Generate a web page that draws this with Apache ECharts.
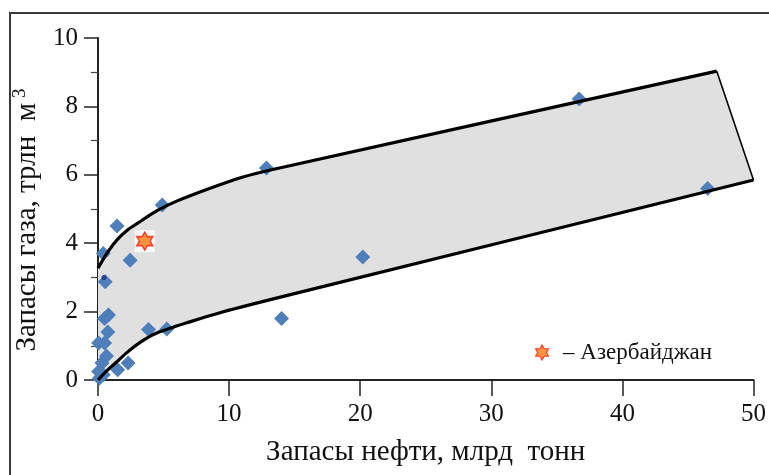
<!DOCTYPE html>
<html>
<head>
<meta charset="utf-8">
<script src="https://cdn.jsdelivr.net/npm/echarts@6/dist/echarts.min.js"></script>
<style>
  html, body { margin: 0; padding: 0; background: #fff; }
  #chart { width: 769px; height: 475px; }
</style>
</head>
<body>
<div id="chart"></div>
<script>
// Oil reserves (bn t) vs gas reserves (tn m3) by country
const oilReserves = [0.4, 1.45, 2.45, 0.55, 0.8, 0.5, 0.75, 0.05, 0.5, 0.65, 0.3, 0.05, 0.4, 0.1, 1.5, 2.3, 3.85, 5.25, 4.9, 12.85, 14.0, 20.2, 36.7, 46.5];
const gasReserves = [3.7, 4.5, 3.5, 2.87, 1.9, 1.8, 1.4, 1.08, 1.08, 0.7, 0.5, 0.25, 0.15, 0.05, 0.3, 0.5, 1.48, 1.49, 5.12, 6.2, 1.8, 3.6, 8.22, 5.6];

// Small dark marker inside the cluster
const darkDot = [[0.45, 3.0]];

// Azerbaijan
const azerbaijan = [[3.57, 4.06]];
const azerbaijanName = 'Азербайджан';

// Envelope boundaries
const upperBound = [[0, 3.27], [0.7, 3.72], [1.5, 4.12], [2.3, 4.4], [3, 4.58], [4.5, 4.95], [6, 5.23], [8.5, 5.6], [11, 5.93], [13.5, 6.17], [47.2, 9.03]];
const lowerBound = [[0, 0], [0.7, 0.28], [1.4, 0.52], [2.2, 0.8], [3.3, 1.12], [4.4, 1.36], [7, 1.7], [9.5, 1.99], [14.6, 2.49], [50, 5.85]];
const rightEdge = [upperBound[upperBound.length - 1], lowerBound[lowerBound.length - 1]];

// Axis ticks
const xTicks = { min: 0, max: 50, step: 10 };
const yTicks = { min: 0, max: 10, step: 2 };

const FONT = 'Liberation Serif';
const starPath = 'path://M50 0L64.4 25L93.3 25L78.9 50L93.3 75L64.4 75L50 100L35.6 75L6.7 75L21.1 50L6.7 25L35.6 25Z';

const points = oilReserves.map((x, i) => [x, gasReserves[i]]);
const envelope = upperBound.concat(lowerBound.slice().reverse());

const chart = echarts.init(document.getElementById('chart'), null, { renderer: 'canvas' });

chart.setOption({
  animation: false,
  backgroundColor: '#ffffff',
  textStyle: { fontFamily: FONT, color: '#111' },
  grid: { left: 98, right: 12, top: 38, bottom: 95, containLabel: false },
  graphic: [{
    type: 'rect',
    shape: { x: 10, y: 13, width: 800, height: 520 },
    style: { fill: null, stroke: '#3a3a3a', lineWidth: 2 },
    silent: true,
    z: 0
  }],
  legend: {
    left: 530,
    top: 336,
    itemWidth: 14,
    itemHeight: 15,
    data: [{ name: azerbaijanName, icon: starPath }],
    formatter: name => '{d|–} ' + name,
    textStyle: {
      fontFamily: FONT,
      fontSize: 23,
      color: '#111',
      rich: { d: { fontFamily: FONT, fontSize: 23, color: '#111', padding: [0, 0, 0, 9] } }
    },
    itemStyle: { color: '#ff7a12', borderColor: '#ff1a10', borderWidth: 1.2 }
  },
  xAxis: {
    type: 'value',
    min: xTicks.min,
    max: xTicks.max,
    interval: xTicks.step,
    name: 'Запасы нефти, млрд  тонн',
    nameLocation: 'middle',
    nameGap: 58,
    nameTextStyle: { fontFamily: FONT, fontSize: 29, color: '#111' },
    axisLine: { show: true, onZero: false, lineStyle: { color: '#222', width: 2 } },
    axisTick: { show: true, inside: false, length: 16, lineStyle: { color: '#222', width: 1.5 } },
    axisLabel: { margin: 22, fontFamily: FONT, fontSize: 25, color: '#111' },
    splitLine: { show: false }
  },
  yAxis: {
    type: 'value',
    min: yTicks.min,
    max: yTicks.max,
    interval: yTicks.step,
    name: 'Запасы газа, трлн  м{sup|3}',
    nameLocation: 'middle',
    nameGap: 54,
    nameRotate: 90,
    nameTextStyle: {
      fontFamily: FONT, fontSize: 29, color: '#111',
      padding: [0, 22, 0, 0],
      rich: { sup: { fontFamily: FONT, fontSize: 19, color: '#111', verticalAlign: 'top', padding: [0, 0, 14, 5] } }
    },
    axisLine: { show: true, onZero: false, lineStyle: { color: '#222', width: 2 } },
    axisTick: { show: true, inside: false, length: 14, lineStyle: { color: '#222', width: 1.5 } },
    minorTick: { show: true, splitNumber: 2, length: 7, lineStyle: { color: '#444', width: 1.2 } },
    axisLabel: { margin: 20, fontFamily: FONT, fontSize: 25, color: '#111' },
    splitLine: { show: false }
  },
  series: [
    {
      // shaded envelope
      type: 'custom',
      silent: true,
      z: 1,
      data: [0],
      renderItem: (params, api) => ({
        type: 'polygon',
        shape: { points: envelope.map(p => api.coord(p)) },
        style: { fill: '#e0e0e0', stroke: null }
      })
    },
    {
      name: 'countries',
      type: 'scatter',
      z: 2,
      symbol: 'diamond',
      symbolSize: [15, 15],
      itemStyle: { color: '#4f7fba', opacity: 1 },
      data: points
    },
    {
      name: 'dot',
      type: 'scatter',
      z: 3,
      symbol: 'circle',
      symbolSize: 5,
      itemStyle: { color: '#1c2f8c' },
      data: darkDot
    },
    {
      name: 'upper',
      type: 'line',
      z: 4,
      showSymbol: false,
      smooth: 0.25,
      data: upperBound,
      lineStyle: { color: '#000', width: 3.2 }
    },
    {
      name: 'lower',
      type: 'line',
      z: 4,
      showSymbol: false,
      smooth: 0.25,
      data: lowerBound,
      lineStyle: { color: '#000', width: 3.2 }
    },
    {
      name: 'edge',
      type: 'line',
      z: 4,
      showSymbol: false,
      data: rightEdge,
      lineStyle: { color: '#000', width: 1.6 }
    },
    {
      name: 'starBox',
      type: 'scatter',
      z: 5,
      symbol: 'rect',
      symbolSize: [20, 22],
      itemStyle: { color: '#ffffff' },
      data: azerbaijan
    },
    {
      name: azerbaijanName,
      type: 'scatter',
      z: 6,
      symbol: starPath,
      symbolSize: [16, 18],
      itemStyle: { color: '#ff7a12', borderColor: '#ff1a10', borderWidth: 1.5 },
      data: azerbaijan
    }
  ]
});
</script>
</body>
</html>
